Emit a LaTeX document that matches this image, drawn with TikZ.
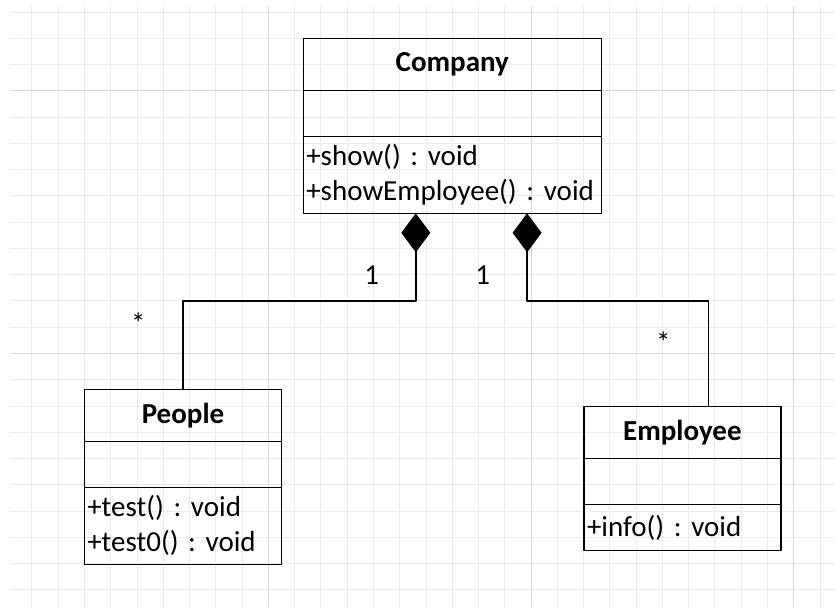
\documentclass[tikz,border=0pt]{standalone}
\usepackage{fontspec}
\setmainfont{Carlito}
\frenchspacing
\usetikzlibrary{positioning,arrows.meta}
\begin{document}
\begin{tikzpicture}[x=.5pt, y=-.5pt, line join=round, font=\fontsize{14.5}{17.5}\selectfont,
	minor/.style={draw=black!8, line width=.5pt},
	major/.style={draw=black!15, line width=.5pt},
	part/.style={draw, line width=.75pt, outer sep=0pt, inner sep=0pt, minimum width=#1},
	classname/.style={part=#1, minimum height=26pt, font=\fontsize{14.5}{17.5}\selectfont\bfseries},
	attrs/.style={part=#1, minimum height=23pt},
	ops/.style={part=#1, inner xsep=1.5pt, align=left},
	link/.style={line width=.75pt, -{Diamond[length=19.5pt,width=14.5pt]}}]
	\fill[white] (0,0) rectangle (835,607);
	\useasboundingbox (0,0) rectangle (835,607);
	% background grid
	\foreach \i in {0,...,30} \draw[minor] ({31.95+26.27*\i},6) -- ({31.95+26.27*\i},607);
	\foreach \j in {0,...,22} \draw[minor] (10,{12+26.27*\j}) -- (835,{12+26.27*\j});
	\foreach \x in {268.4,531.1,793.8} \draw[major] (\x,6) -- (\x,607);
	\foreach \y in {90.8,353.5} \draw[major] (10,\y) -- (835,\y);
	% classes
	\node[classname=149pt, anchor=north west] (company) at (303.3,38.3) {Company};
	\node[attrs=149pt, below=0pt of company] (company-attr) {};
	\node[ops=149pt, text width=146pt, minimum height=38.5pt, below=0pt of company-attr] (company-ops) {+show() : void\\+showEmployee() : void};
	\node[classname=98.7pt, anchor=north west] (people) at (84.3,389.3) {People};
	\node[attrs=98.7pt, below=0pt of people] (people-attr) {};
	\node[ops=98.7pt, text width=95.7pt, minimum height=38.5pt, below=0pt of people-attr] (people-ops) {+test() : void\\+test0() : void};
	\node[classname=98.4pt, anchor=north west] (employee) at (584,406.7) {Employee};
	\node[attrs=98.4pt, below=0pt of employee] (employee-attr) {};
	\node[ops=98.4pt, text width=95.4pt, minimum height=23pt, below=0pt of employee-attr] (employee-ops) {+info() : void};
	% composition links
	\coordinate (c-left) at ([xshift=-18.25pt]company-ops.south);
	\coordinate (c-right) at ([xshift=37.4pt]company-ops.south);
	\coordinate (e-top) at ([xshift=13.1pt]employee.north);
	\draw[link] (people.north) -- ++(0,-88.3) -| (c-left);
	\draw[link] (e-top) -- ++(0,-105.7) -| (c-right);
	\node[anchor=base] (one-l) at (371.7,284) {1};
	\node[anchor=base] (one-r) at (482.7,284) {1};
	\node[anchor=base] (many-l) at (138.3,333) {*};
	\node[anchor=base] (many-r) at (663.3,352) {*};
\end{tikzpicture}
\end{document}
